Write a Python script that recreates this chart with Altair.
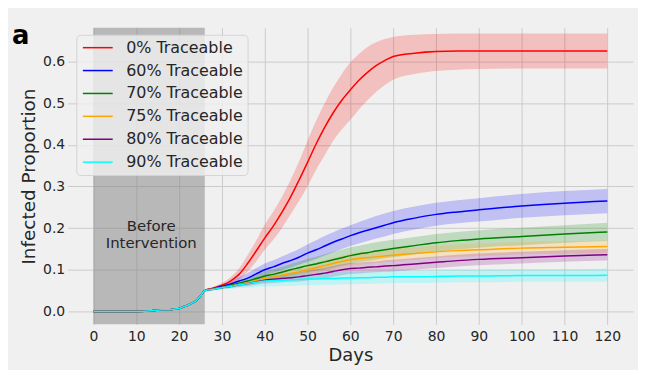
import altair as alt
import pandas as pd

# ---------------- data ----------------
series_names = ["0% Traceable", "60% Traceable", "70% Traceable",
                "75% Traceable", "80% Traceable", "90% Traceable"]
series_colors = ["red", "blue", "green", "orange", "purple", "cyan"]

pre_days = [0, 4, 8, 12, 14, 16, 18, 19, 20, 21, 22, 23, 24, 25, 26]
pre_vals = [0.0, 0.0, 0.0, 0.0005, 0.002, 0.004, 0.004, 0.006, 0.007,
            0.011, 0.015, 0.02, 0.026, 0.037, 0.05]

post_days = [26, 28, 30, 32, 34, 36, 38, 40, 42, 44, 46, 48, 50, 52, 54, 56,
             58, 60, 62, 64, 66, 68, 70, 75, 80, 85, 90, 100, 110, 120]

red_mean = [0.05, 0.056, 0.063, 0.073, 0.089, 0.115, 0.145, 0.176, 0.205, 0.238,
            0.274, 0.315, 0.358, 0.402, 0.442, 0.477, 0.507, 0.532, 0.555, 0.574,
            0.59, 0.602, 0.612, 0.620, 0.624, 0.625, 0.625, 0.625, 0.625, 0.625]
red_low = [0.05, 0.053, 0.058, 0.064, 0.076, 0.095, 0.12, 0.148, 0.172, 0.2,
           0.232, 0.265, 0.30, 0.34, 0.375, 0.41, 0.437, 0.46, 0.485, 0.507,
           0.527, 0.543, 0.556, 0.570, 0.577, 0.580, 0.582, 0.583, 0.583, 0.583]
red_high = [0.05, 0.059, 0.068, 0.082, 0.103, 0.135, 0.17, 0.208, 0.24, 0.275,
            0.315, 0.36, 0.41, 0.458, 0.50, 0.538, 0.57, 0.598, 0.618, 0.635,
            0.646, 0.654, 0.659, 0.664, 0.666, 0.667, 0.667, 0.667, 0.667, 0.667]

blue_mean = [0.05, 0.055, 0.06, 0.066, 0.073, 0.08, 0.09, 0.1, 0.107, 0.115,
             0.122, 0.13, 0.14, 0.148, 0.157, 0.166, 0.174, 0.182, 0.189, 0.195,
             0.201, 0.207, 0.213, 0.224, 0.233, 0.239, 0.244, 0.253, 0.26, 0.265]
blue_low = [0.05, 0.053, 0.056, 0.06, 0.064, 0.069, 0.077, 0.087, 0.093, 0.099,
            0.105, 0.112, 0.119, 0.126, 0.134, 0.142, 0.15, 0.157, 0.163, 0.169,
            0.175, 0.18, 0.186, 0.197, 0.206, 0.212, 0.216, 0.225, 0.231, 0.236]
blue_high = [0.05, 0.057, 0.064, 0.072, 0.082, 0.092, 0.104, 0.115, 0.123, 0.132,
             0.141, 0.15, 0.161, 0.171, 0.181, 0.19, 0.199, 0.207, 0.215, 0.222,
             0.229, 0.235, 0.241, 0.252, 0.261, 0.267, 0.272, 0.282, 0.289, 0.294]

green_mean = [0.05, 0.054, 0.058, 0.063, 0.068, 0.073, 0.079, 0.085, 0.089, 0.094,
              0.1, 0.105, 0.11, 0.114, 0.119, 0.124, 0.129, 0.134, 0.138, 0.141,
              0.145, 0.148, 0.151, 0.158, 0.165, 0.17, 0.174, 0.18, 0.186, 0.191]
green_low = [0.05, 0.052, 0.055, 0.058, 0.062, 0.065, 0.07, 0.074, 0.077, 0.081,
             0.086, 0.09, 0.094, 0.097, 0.101, 0.105, 0.11, 0.114, 0.118, 0.121,
             0.124, 0.127, 0.13, 0.137, 0.144, 0.149, 0.153, 0.159, 0.165, 0.169]
green_high = [0.05, 0.056, 0.061, 0.068, 0.074, 0.081, 0.088, 0.096, 0.101, 0.107,
              0.114, 0.12, 0.126, 0.131, 0.137, 0.143, 0.148, 0.154, 0.158, 0.162,
              0.166, 0.169, 0.172, 0.179, 0.186, 0.191, 0.195, 0.201, 0.207, 0.213]

orange_mean = [0.05, 0.054, 0.057, 0.061, 0.065, 0.069, 0.074, 0.079, 0.083, 0.087,
               0.091, 0.095, 0.1, 0.105, 0.11, 0.115, 0.12, 0.124, 0.127, 0.129,
               0.131, 0.133, 0.135, 0.139, 0.143, 0.146, 0.148, 0.152, 0.154, 0.156]
orange_low = [0.05, 0.052, 0.054, 0.057, 0.06, 0.063, 0.067, 0.071, 0.074, 0.077,
              0.081, 0.084, 0.088, 0.093, 0.097, 0.102, 0.106, 0.11, 0.112, 0.114,
              0.116, 0.118, 0.12, 0.124, 0.128, 0.131, 0.133, 0.137, 0.139, 0.141]
orange_high = [0.05, 0.056, 0.06, 0.065, 0.07, 0.075, 0.081, 0.087, 0.092, 0.097,
               0.101, 0.106, 0.112, 0.117, 0.123, 0.128, 0.134, 0.138, 0.142, 0.144,
               0.146, 0.148, 0.15, 0.154, 0.158, 0.161, 0.163, 0.167, 0.169, 0.171]

purple_mean = [0.05, 0.053, 0.057, 0.06, 0.064, 0.067, 0.071, 0.075, 0.077, 0.079,
               0.081, 0.083, 0.086, 0.089, 0.092, 0.096, 0.1, 0.103, 0.104, 0.106,
               0.107, 0.109, 0.11, 0.114, 0.118, 0.122, 0.125, 0.129, 0.133, 0.136]
purple_low = [0.05, 0.051, 0.054, 0.056, 0.059, 0.061, 0.064, 0.067, 0.068, 0.07,
              0.071, 0.072, 0.074, 0.077, 0.079, 0.083, 0.087, 0.09, 0.091, 0.093,
              0.094, 0.095, 0.096, 0.1, 0.104, 0.108, 0.111, 0.115, 0.119, 0.122]
purple_high = [0.05, 0.055, 0.06, 0.064, 0.069, 0.073, 0.078, 0.083, 0.086, 0.088,
               0.091, 0.094, 0.098, 0.101, 0.105, 0.109, 0.113, 0.116, 0.117, 0.119,
               0.12, 0.123, 0.124, 0.128, 0.132, 0.136, 0.139, 0.143, 0.147, 0.15]

cyan_mean = [0.05, 0.053, 0.057, 0.06, 0.064, 0.067, 0.07, 0.073, 0.074, 0.075,
             0.076, 0.077, 0.078, 0.078, 0.079, 0.079, 0.08, 0.08, 0.081, 0.081,
             0.082, 0.082, 0.083, 0.083, 0.084, 0.085, 0.085, 0.086, 0.086, 0.087]
cyan_low = [0.05, 0.051, 0.053, 0.054, 0.056, 0.057, 0.059, 0.06, 0.06, 0.061,
            0.061, 0.062, 0.063, 0.063, 0.064, 0.064, 0.065, 0.065, 0.066, 0.066,
            0.067, 0.067, 0.068, 0.068, 0.069, 0.07, 0.07, 0.071, 0.071, 0.071]
cyan_high = [0.05, 0.055, 0.061, 0.066, 0.072, 0.077, 0.081, 0.086, 0.088, 0.089,
             0.091, 0.092, 0.093, 0.093, 0.094, 0.094, 0.095, 0.095, 0.096, 0.096,
             0.097, 0.097, 0.098, 0.098, 0.099, 0.1, 0.1, 0.101, 0.101, 0.103]

means = [red_mean, blue_mean, green_mean, orange_mean, purple_mean, cyan_mean]
lows = [red_low, blue_low, green_low, orange_low, purple_low, cyan_low]
highs = [red_high, blue_high, green_high, orange_high, purple_high, cyan_high]

x_ticks = list(range(0, 121, 10))
y_ticks = [0.0, 0.1, 0.2, 0.3, 0.4, 0.5, 0.6]
x_domain = [-6, 126]
y_domain = [-0.031, 0.681]

shade_start, shade_end = 0, 26
annot_text = ["Before", "Intervention"]
annot_x, annot_y = 13.5, 0.205
panel_label = "a"

# ---------------- tables ----------------
line_rows, band_rows = [], []
for k, name in enumerate(series_names):
    for d, v in zip(pre_days[:-1], pre_vals[:-1]):
        line_rows.append({"series": name, "order": k, "day": d, "value": v})
    for d, m, lo, hi in zip(post_days, means[k], lows[k], highs[k]):
        line_rows.append({"series": name, "order": k, "day": d, "value": m})
        band_rows.append({"band": name, "border": k, "day": d, "value": lo, "high": hi})
lines_df = pd.DataFrame(line_rows)
bands_df = pd.DataFrame(band_rows)

W, H = 568, 298
FONT = "DejaVu Sans"
TXT = "#262626"

x_scale = alt.Scale(domain=x_domain, nice=False, zero=False)
y_scale = alt.Scale(domain=y_domain, nice=False, zero=False)
x_axis = alt.Axis(values=x_ticks, title="Days", format="d")
y_axis = alt.Axis(values=y_ticks, title="Infected Proportion", format=".1f")

shade = alt.Chart(pd.DataFrame({"day": [shade_start], "day_end": [shade_end]})).mark_rect(
    color="#808080", opacity=0.5
).encode(
    x=alt.X("day:Q", scale=x_scale, axis=x_axis), x2="day_end:Q",
    y=alt.value(0), y2=alt.value(H)
)

bands = alt.Chart(bands_df).mark_area(opacity=0.2, interpolate="monotone").encode(
    x=alt.X("day:Q", scale=x_scale, axis=x_axis),
    y=alt.Y("value:Q", scale=y_scale, axis=y_axis),
    y2="high:Q",
    fill=alt.Fill("band:N", scale=alt.Scale(domain=series_names, range=series_colors),
                  legend=None),
    order="border:Q",
)

lines = alt.Chart(lines_df).mark_line(strokeWidth=1.5, interpolate="monotone").encode(
    x=alt.X("day:Q", scale=x_scale, axis=x_axis),
    y=alt.Y("value:Q", scale=y_scale, axis=y_axis),
    stroke=alt.Stroke(
        "series:N", scale=alt.Scale(domain=series_names, range=series_colors),
        legend=alt.Legend(
            title=None, orient="none", legendX=8.7, legendY=7.0,
            symbolType="M-2,0H2", symbolSize=225, symbolStrokeWidth=1.5,
            symbolOffset=8.5, labelOffset=20,
            labelFontSize=16, labelFont=FONT, labelColor=TXT,
            rowPadding=6, padding=4.5,
            fillColor="rgba(240,240,240,0.8)", strokeColor="#d4d4d4",
            cornerRadius=4,
        ),
    ),
    order="order:Q",
)

annot = alt.Chart(pd.DataFrame({"x": [annot_x], "y": [annot_y], "t": [annot_text]})).mark_text(
    font=FONT, fontSize=15, color=TXT, align="center", baseline="middle", lineHeight=17.5
).encode(x=alt.X("x:Q", scale=x_scale, axis=x_axis),
         y=alt.Y("y:Q", scale=y_scale, axis=y_axis), text="t")

label = alt.Chart(pd.DataFrame({"t": [panel_label]})).mark_text(
    font=FONT, fontSize=26, fontWeight="bold", color="black", align="left",
    baseline="alphabetic"
).encode(x=alt.value(-56), y=alt.value(16), text="t:N")

chart = alt.layer(shade, bands, lines, annot, label).resolve_scale(
    fill="independent", stroke="independent"
).properties(
    width=W, height=H,
    background="#f0f0f0",
    autosize=alt.AutoSizeParams(type="none"),
    padding={"left": 60, "top": 19, "right": 5, "bottom": 45},
).configure_view(stroke=None, fill="#f0f0f0").configure_axis(
    domain=False, ticks=False, grid=True, gridColor="#cbcbcb", gridWidth=1,
    labelFont=FONT, labelFontSize=14, labelColor=TXT,
    titleFont=FONT, titleColor=TXT, titleFontWeight="normal",
).configure_axisX(labelPadding=5, titlePadding=3, titleFontSize=18).configure_axisY(
    labelPadding=3, titlePadding=4, titleFontSize=18.5
)

chart.save("out.html", embed_options={"renderer": "svg", "actions": False})
